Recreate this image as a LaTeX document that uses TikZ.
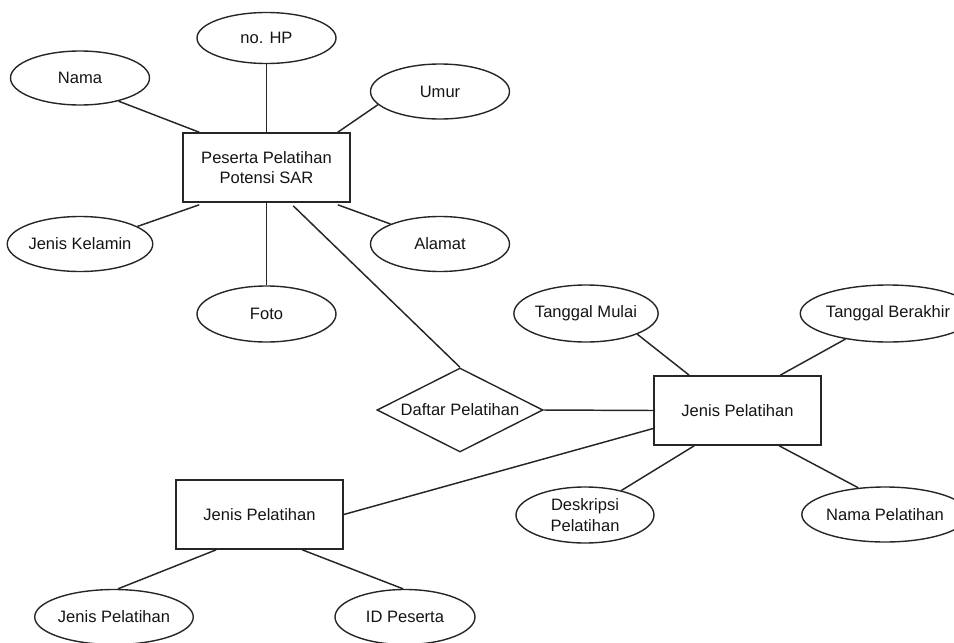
\documentclass[tikz,border=0pt]{standalone}
\usepackage{fontspec}
\setmainfont{Liberation Sans}
\usetikzlibrary{shapes.geometric,calc}

\tikzset{
  er/.style={font=\fontsize{12.4}{15.5}\selectfont, text=black!92, align=center},
  entity/.style={er, draw=black!85, line width=1.2pt, rectangle, inner sep=0pt,
    minimum width=167*0.75pt, minimum height=69*0.75pt},
  attr/.style 2 args={er, draw=black!85, line width=1.05pt, ellipse, inner sep=0pt,
    minimum width=#1*0.75pt, minimum height=#2*0.75pt},
  rel/.style={er, draw=black!85, line width=1.05pt, diamond, aspect=2, inner sep=0pt,
    minimum width=166*0.75pt, minimum height=84*0.75pt},
  link/.style={draw=black!85, line width=1.1pt}
}

\begin{document}
\begin{tikzpicture}[x=0.75pt, y=-0.75pt]
\useasboundingbox (0,0) rectangle (954,643);

% entities
\node[entity] (peserta) at (266.5,167.5) {Peserta Pelatihan\\Potensi SAR};
\node[entity] (jenis) at (737.5,410.5) {Jenis Pelatihan};
\node[entity] (jenisb) at (259.5,514.5) {Jenis Pelatihan};

% relationship
\node[rel] (daftar) at (460,410) {Daftar Pelatihan};

% attributes of Peserta Pelatihan Potensi SAR
\node[attr={139}{51}] (nohp) at (266.5,38) {no. HP};
\node[attr={139}{54}] (nama) at (80,78) {Nama};
\node[attr={139}{55}] (umur) at (440,91.5) {Umur};
\node[attr={139}{55}] (kelamin) at (80,244) {Jenis Kelamin};
\node[attr={139}{55}] (alamat) at (440,244) {Alamat};
\node[attr={139}{56}] (foto) at (266.5,314) {Foto};

% attributes of Jenis Pelatihan
\node[attr={140}{57}] (mulai) at (586,313.5) {Tanggal Mulai};
\node[attr={136}{57}] (akhir) at (888,313.5) {Tanggal Berakhir};
\node[attr={138}{56}] (deskripsi) at (585,515) {Deskripsi\\Pelatihan};
\node[attr={136}{55}] (namapel) at (885,514.5) {Nama Pelatihan};

% attributes of the lower Jenis Pelatihan
\node[attr={138}{55}] (jpattr) at (114,617) {Jenis Pelatihan};
\node[attr={140}{55}] (idpeserta) at (405,617) {ID Peserta};

% connectors around Peserta Pelatihan Potensi SAR
\draw[link] (nama.-31) -- ($(peserta.north west)+(17,0)$);
\draw[link] (nohp.south) -- (peserta.north);
\draw[link] (umur.192) -- ($(peserta.north east)+(-13,0)$);
\draw[link] (kelamin.17) -- ($(peserta.south west)+(17,2)$);
\draw[link] (alamat.158) -- ($(peserta.south east)+(-13,2)$);
\draw[link] (foto.north) -- (peserta.south);
\draw[link] ($(peserta.south west)+(111,3)$) -- (daftar.north);

% connectors around Jenis Pelatihan
\draw[link] (daftar.east) -- (jenis.west);
\draw[link] (mulai.-22) -- ($(jenis.north west)+(36,0)$);
\draw[link] (akhir.-149) -- ($(jenis.north west)+(127,0)$);
\draw[link] (deskripsi.34) -- ($(jenis.south west)+(41,0)$);
\draw[link] (namapel.135) -- ($(jenis.south west)+(126,0)$);
\draw[link] (jenisb.east) -- ($(jenis.west)+(0,18)$);

% connectors of the lower Jenis Pelatihan
\draw[link] (jpattr.82) -- ($(jenisb.south west)+(41,0)$);
\draw[link] (idpeserta.94) -- ($(jenisb.south west)+(127,0)$);
\end{tikzpicture}
\end{document}
